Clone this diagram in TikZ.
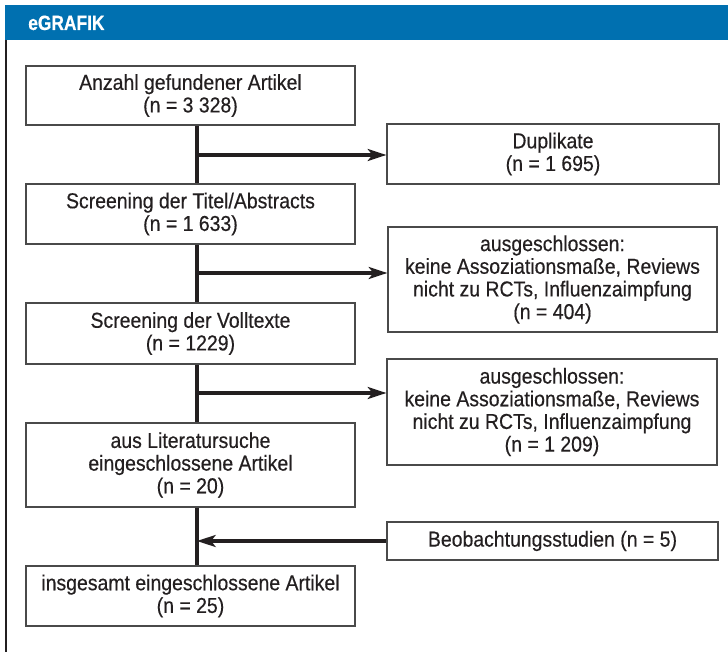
\documentclass[tikz,border=0pt]{standalone}
\usepackage{fontspec}
\setmainfont{Liberation Sans}[FakeStretch=0.9,FakeBold=0.4]
\newfontfamily\titlefont{Liberation Sans}[FakeStretch=0.84,FakeBold=0.6]
\usetikzlibrary{arrows.meta}
\definecolor{barblue}{HTML}{0070B0}
\definecolor{textgray}{HTML}{231F20}
\definecolor{boxgray}{HTML}{4A4A4A}
\tikzset{
  flowbox/.style={draw=boxgray,line width=0.9pt,fill=white,align=center,inner sep=0pt,
    text=textgray,font=\fontsize{16.2}{17}\selectfont},
  trunk/.style={line width=2.6pt,draw=textgray},
  arrowline/.style={line width=2.4pt,draw=textgray,
    -{Stealth[length=14pt,width=9pt,inset=3.5pt]}},
}

\begin{document}
\begin{tikzpicture}[x=0.75pt,y=0.75pt,yscale=-1,xscale=1]
\useasboundingbox (0,0) rectangle (728,652);

%Shape: Rectangle (title bar)
\fill [barblue] (5,5) rectangle (728,40);
%Straight Lines (left rule)
\draw [line width=1.5pt,textgray] (6,40) -- (6,652);
% Text Node
\draw (28,30) node [anchor=base west][inner sep=0pt,text=white]  {\titlefont\bfseries\fontsize{15.5}{16}\selectfont eGRAFIK};

% boxes, left column
\node [flowbox,minimum width=246.75pt,minimum height=44.25pt] (anzahl) at (190.5,95.5) {Anzahl gefundener Artikel\\(n = 3 328)};
\node [flowbox,minimum width=246.75pt,minimum height=45pt] (titel) at (190.5,214) {Screening der Titel/Abstracts\\(n = 1 633)};
\node [flowbox,minimum width=246.75pt,minimum height=45.75pt] (volltext) at (190.5,333.5) {Screening der Volltexte\\(n = 1229)};
\node [flowbox,minimum width=246.75pt,minimum height=63pt] (literatur) at (190.5,465) {aus Literatursuche\\eingeschlossene Artikel\\(n = 20)};
\node [flowbox,minimum width=246.75pt,minimum height=45pt] (gesamt) at (190.5,596) {insgesamt eingeschlossene Artikel\\(n = 25)};

% boxes, right column
\node [flowbox,minimum width=249pt,minimum height=45pt] (duplikate) at (553,154) {Duplikate\\(n = 1 695)};
\node [flowbox,minimum width=246.75pt,minimum height=78.75pt] (ausschluss1) at (552.5,279.5) {ausgeschlossen:\\keine Assoziationsmaße, Reviews\\nicht zu RCTs, Influenzaimpfung\\(n = 404)};
\node [flowbox,minimum width=247.5pt,minimum height=79.5pt] (ausschluss2) at (552,412) {ausgeschlossen:\\keine Assoziationsmaße, Reviews\\nicht zu RCTs, Influenzaimpfung\\(n = 1 209)};
\node [flowbox,minimum width=248.25pt,minimum height=28.5pt] (beobachtung) at (552.5,541) {Beobachtungsstudien (n = 5)};

% junctions on the stem
\coordinate (stem) at (197,0);
\coordinate (j1) at (197,155);
\coordinate (j2) at (197,273);
\coordinate (j3) at (197,393);

%Straight Lines (stem)
\draw [trunk] (anzahl.south -| stem) -- (titel.north -| stem);
\draw [trunk] (titel.south -| stem) -- (volltext.north -| stem);
\draw [trunk] (volltext.south -| stem) -- (literatur.north -| stem);
\draw [trunk] (literatur.south -| stem) -- (gesamt.north -| stem);

%Straight Lines (arrows)
\draw [arrowline] (j1) -- (j1 -| duplikate.west);
\draw [arrowline] (j2) -- (j2 -| ausschluss1.west);
\draw [arrowline] (j3) -- (j3 -| ausschluss2.west);
\draw [arrowline] (beobachtung.west) -- (beobachtung.west -| stem);

\end{tikzpicture}
\end{document}
